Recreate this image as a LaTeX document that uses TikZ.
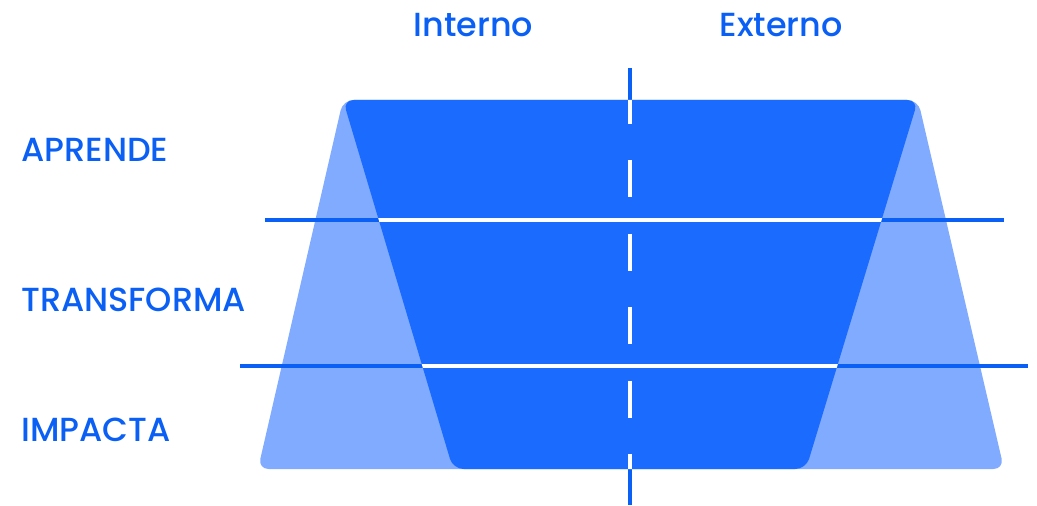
\documentclass[tikz,border=0pt]{standalone}
\usepackage{fontspec}
\setmainfont{Poppins}[UprightFont=* Medium]
\definecolor{funneldark}{HTML}{1B6BFF}
\definecolor{funnellight}{HTML}{80ABFF}
\definecolor{funnelblue}{HTML}{0A5FF5}
\tikzset{
  rowlabel/.style={anchor=west, inner sep=0pt, text=funnelblue, font=\fontsize{19}{21}\selectfont},
  collabel/.style={anchor=base, inner sep=0pt, text=funnelblue, font=\fontsize{19}{21}\selectfont},
  splitline/.style={line width=1.8pt, color=funnelblue},
  whiteline/.style={line width=1.8pt, color=white},
}

\begin{document}
\begin{tikzpicture}[x=0.02cm, y=-0.02cm]
			%%%%% START %%%%%
			\useasboundingbox (0, 0) rectangle (1037, 506);
			
			\coordinate (topL) at (343, 100);
			\coordinate (topR) at (918, 100);
			\coordinate (outL) at (258, 469);
			\coordinate (outR) at (1004, 469);
			\coordinate (inL) at (453, 469);
			\coordinate (inR) at (806, 469);
			
			\draw[fill=funnellight, draw=none, rounded corners=6] (topL) -- (topR) -- (outR) -- (outL) -- cycle;
			
			\draw[splitline] (265, 220) -- (1004, 220);
			\draw[splitline] (240, 366) -- (1028, 366);
			\draw[splitline, line width=2pt] (630, 68) -- (630, 505);
			
			\draw[fill=funneldark, draw=none, rounded corners=6] (topL) -- (topR) -- (inR) -- (inL) -- cycle;
			
			\begin{scope}
				\clip (topL) -- (topR) -- (inR) -- (inL) -- cycle;
				\draw[whiteline] (200, 220) -- (1037, 220);
				\draw[whiteline] (200, 366) -- (1037, 366);
				\draw[whiteline, line width=2pt, dash pattern=on 0.74cm off 0.73cm] (630, 87) -- (630, 500);
			\end{scope}
			
			\node[collabel] (interno) at (473.5, 37) {Interno};
			\node[collabel] (externo) at (781, 37) {Externo};
			
			\node[rowlabel] (aprende) at (21, 150) {APRENDE};
			\node[rowlabel] (transforma) at (21, 300) {TRANSFORMA};
			\node[rowlabel] (impacta) at (21, 430) {IMPACTA};
			
			%%%%% END %%%%%
\end{tikzpicture}
\end{document}
